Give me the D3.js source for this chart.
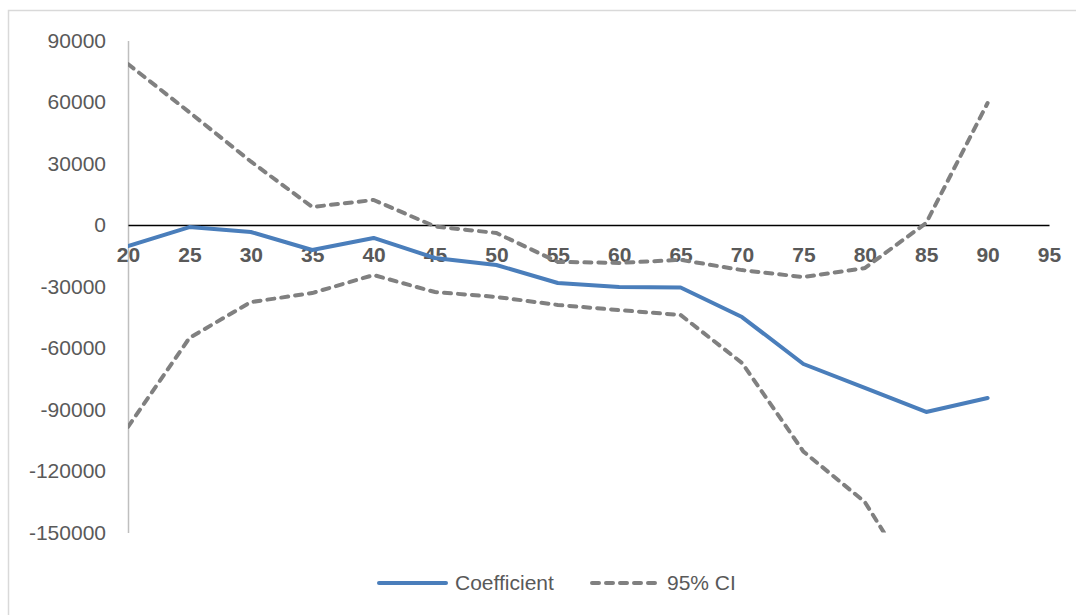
<!DOCTYPE html>
<html>
<head>
<meta charset="utf-8">
<script src="https://cdn.jsdelivr.net/npm/d3@7"></script>
<style>
  body { margin: 0; background: #fff; }
  text { font-family: "Liberation Sans", Arial, sans-serif; fill: #595959; }
</style>
</head>
<body>
<div id="chart"></div>
<script>
// chart values
var ages = [20, 25, 30, 35, 40, 45, 50, 55, 60, 65, 70, 75, 80, 85, 90, 95];
var coefficient = [-10300, -1000, -3400, -12200, -6300, -16100, -19500, -28300, -30200, -30500, -44900, -67800, -79500, -91200, -84400, null];
var upperCI = [78500, 55000, 31000, 8800, 12200, -700, -3900, -18000, -18500, -17000, -22000, -25400, -21000, 1000, 59500, null];
var lowerCI = [-98500, -55100, -37600, -33200, -24400, -32700, -35100, -39000, -41500, -43900, -67300, -110500, -135100, -183000, -228000, null];
var yTicks = [90000, 60000, 30000, 0, -30000, -60000, -90000, -120000, -150000];

// setup dimensions
var width = 1076, height = 615;
var plot = {left: 128, right: 1049, top: 40.5, bottom: 532.5};

var svg = d3.select("#chart").append("svg")
  .attr("width", width)
  .attr("height", height);

// chart border (only top/left are in frame)
svg.append("rect")
  .attr("x", 8.5).attr("y", 10.5)
  .attr("width", 1100).attr("height", 700)
  .attr("fill", "none")
  .attr("stroke", "#d9d9d9")
  .attr("stroke-width", 1.5);

// scales
var x = d3.scalePoint()
  .domain(ages)
  .range([plot.left, plot.right]);
var y = d3.scaleLinear()
  .domain([-150000, 90000])
  .range([plot.bottom, plot.top]);

svg.append("clipPath").attr("id", "clip")
  .append("rect")
  .attr("x", plot.left).attr("y", plot.top)
  .attr("width", plot.right - plot.left + 10)
  .attr("height", plot.bottom - plot.top);

// y axis
var yAxis = svg.append("g")
  .attr("transform", "translate(" + plot.left + ",0)")
  .call(d3.axisLeft(y).tickValues(yTicks).tickSize(0).tickPadding(22)
    .tickFormat(function(d) { return String(d); }));
yAxis.select(".domain").attr("stroke", "#bfbfbf").attr("stroke-width", 1.5);
yAxis.selectAll("text")
  .attr("font-size", 21)
  .attr("fill", "#595959")
  .attr("font-family", "Liberation Sans, Arial, sans-serif");

// zero line + category labels
var xAxis = svg.append("g")
  .attr("transform", "translate(0," + y(0) + ")")
  .call(d3.axisBottom(x).tickSize(0).tickPadding(22));
xAxis.select(".domain").attr("stroke", "#000").attr("stroke-width", 1.5);
xAxis.selectAll("text")
  .attr("font-size", 21)
  .attr("font-weight", "bold")
  .attr("fill", "#595959")
  .attr("font-family", "Liberation Sans, Arial, sans-serif");

// lines
var line = d3.line()
  .defined(function(d) { return d[1] !== null; })
  .x(function(d) { return x(d[0]); })
  .y(function(d) { return y(d[1]); });

function pairs(vals) {
  return ages.map(function(a, i) { return [a, vals[i]]; });
}

var lines = svg.append("g").attr("clip-path", "url(#clip)");

[upperCI, lowerCI].forEach(function(s) {
  lines.append("path")
    .datum(pairs(s))
    .attr("d", line)
    .attr("fill", "none")
    .attr("stroke", "#808080")
    .attr("stroke-width", 4)
    .attr("stroke-linecap", "round")
    .attr("stroke-dasharray", "7,7");
});

lines.append("path")
  .datum(pairs(coefficient))
  .attr("d", line)
  .attr("fill", "none")
  .attr("stroke", "#4a7ebb")
  .attr("stroke-width", 4)
  .attr("stroke-linejoin", "round")
  .attr("stroke-linecap", "round");

// legend
var legend = svg.append("g").attr("transform", "translate(0,583)");
legend.append("line")
  .attr("x1", 379).attr("x2", 446)
  .attr("stroke", "#4a7ebb").attr("stroke-width", 4).attr("stroke-linecap", "round");
legend.append("text")
  .attr("x", 455).attr("dy", "0.35em")
  .attr("font-size", 21)
  .text("Coefficient");
legend.append("line")
  .attr("x1", 592).attr("x2", 662)
  .attr("stroke", "#808080").attr("stroke-width", 4)
  .attr("stroke-linecap", "round").attr("stroke-dasharray", "7,7");
legend.append("text")
  .attr("x", 667).attr("dy", "0.35em")
  .attr("font-size", 21)
  .text("95% CI");
</script>
</body>
</html>
